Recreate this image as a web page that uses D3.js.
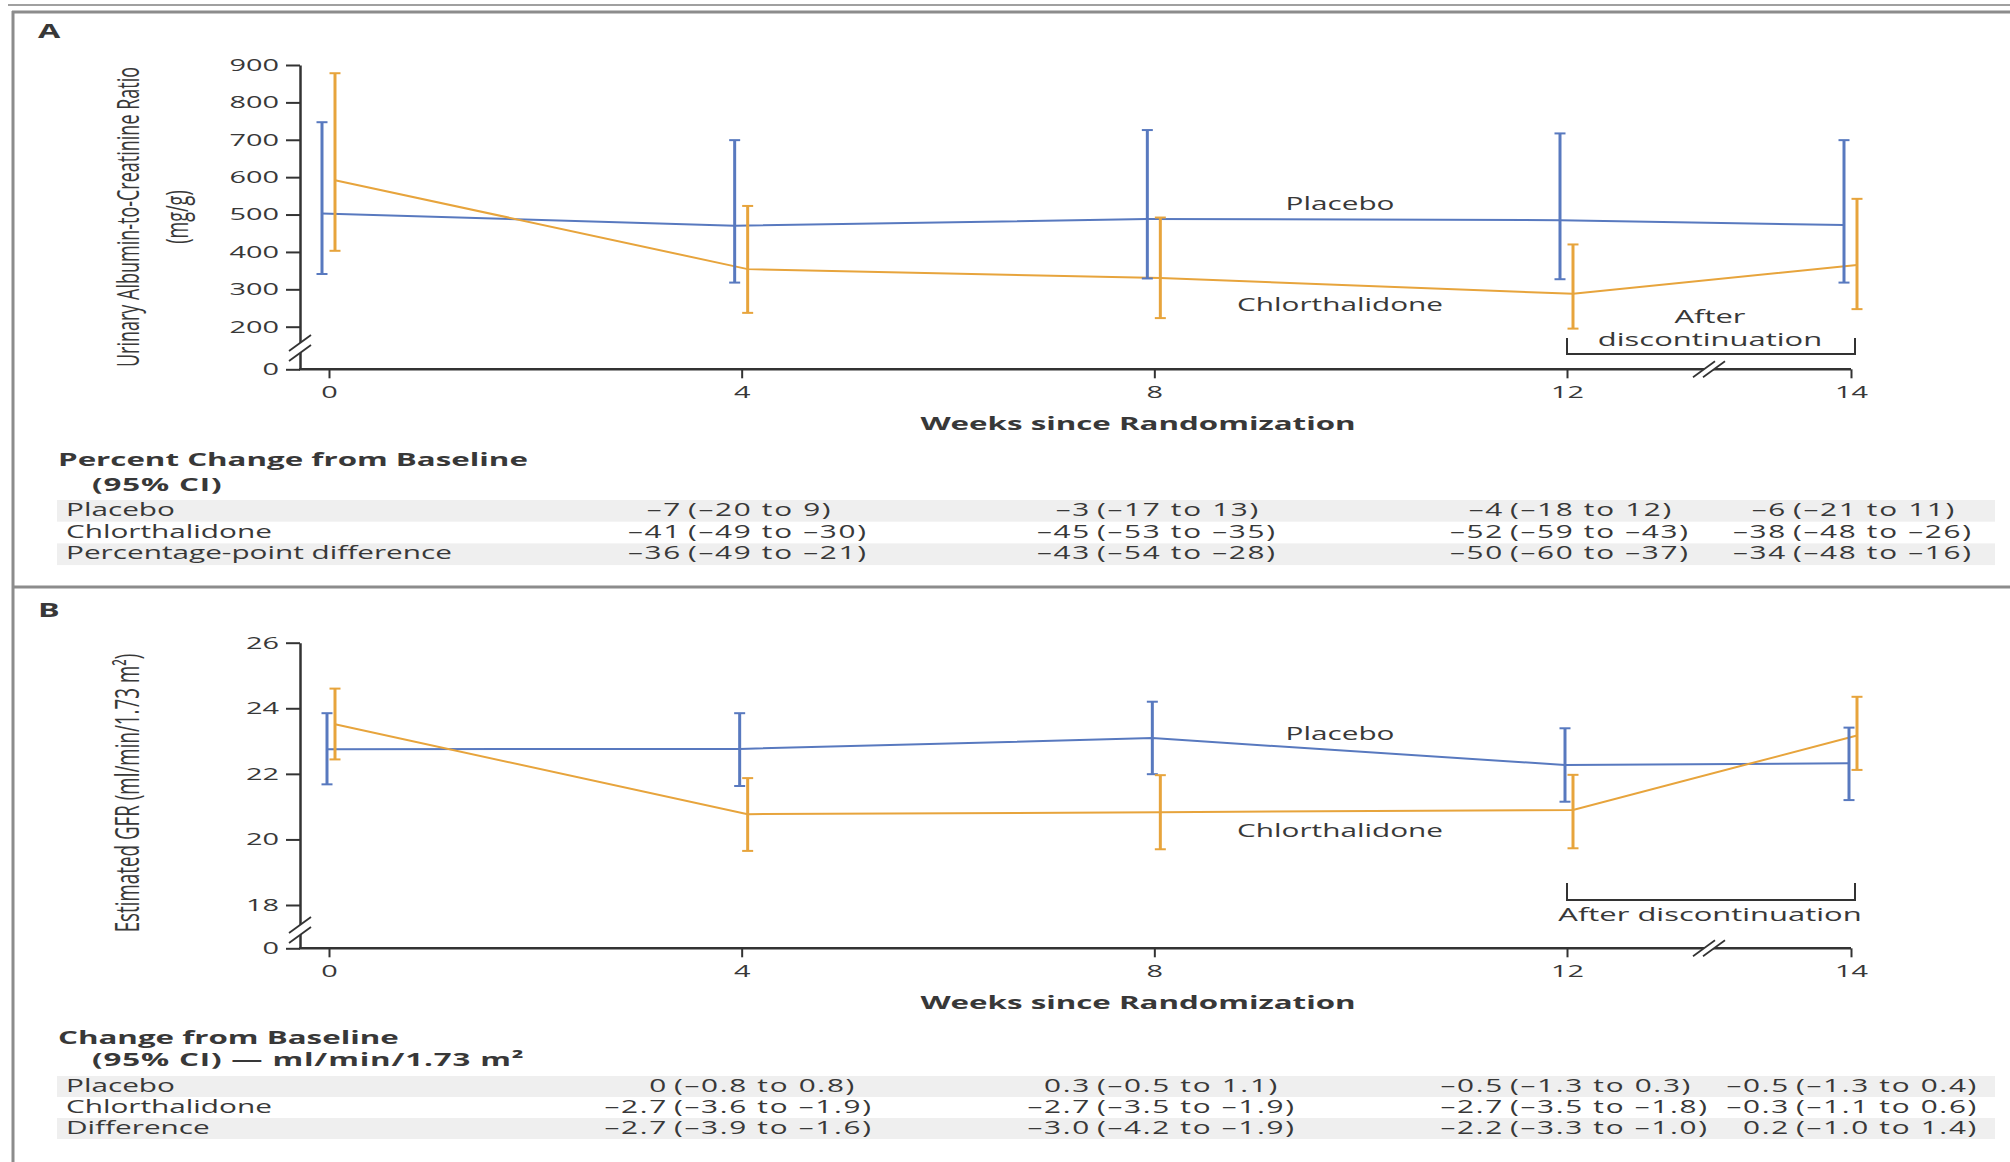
<!DOCTYPE html>
<html>
<head>
<meta charset="utf-8">
<script src="https://cdn.jsdelivr.net/npm/d3@7"></script>
<style>
  html, body { margin: 0; padding: 0; background: #fff; }
  svg { display: block; font-family: "Open Sans", "Noto Sans", sans-serif; }
</style>
</head>
<body>
<svg id="fig" width="2010" height="1162"></svg>
<script>
// ---- Data -------------------------------------------------------------
const weeks = [0, 4, 8, 12, 14];

// Urinary albumin-to-creatinine ratio (mg/g), mean with 95% CI
const uacrPlacebo   = [503, 470, 488, 485, 472];
const uacrPlaceboLo = [341, 318, 329, 327, 318];
const uacrPlaceboHi = [747, 699, 726, 717, 699];
const uacrChlor     = [592, 354, 330, 288, 365];
const uacrChlorLo   = [403, 237, 223, 191, 247];
const uacrChlorHi   = [878, 523, 492, 420, 542];
const uacrTicks     = [0, 200, 300, 400, 500, 600, 700, 800, 900];

// Estimated GFR (ml/min/1.73 m2), mean with 95% CI
const egfrPlacebo   = [22.75, 22.76, 23.09, 22.27, 22.32];
const egfrPlaceboLo = [21.68, 21.63, 21.99, 21.15, 21.20];
const egfrPlaceboHi = [23.85, 23.85, 24.20, 23.39, 23.41];
const egfrChlor     = [23.51, 20.77, 20.83, 20.90, 23.17];
const egfrChlorLo   = [22.44, 19.65, 19.70, 19.73, 22.12];
const egfrChlorHi   = [24.60, 21.87, 21.96, 21.97, 24.35];
const egfrTicks     = [0, 18, 20, 22, 24, 26];

// Summary tables (estimate, 95% CI) at weeks 4, 8, 12 and 14
const tableWeeks = [4, 8, 12, 14];
const uacrRowLabels = ["Placebo", "Chlorthalidone", "Percentage-point difference"];
const uacrPctPlacebo = [["–7", "(–20 to 9)"], ["–3", "(–17 to 13)"], ["–4", "(–18 to 12)"], ["–6", "(–21 to 11)"]];
const uacrPctChlor   = [["–41", "(–49 to –30)"], ["–45", "(–53 to –35)"], ["–52", "(–59 to –43)"], ["–38", "(–48 to –26)"]];
const uacrPctDiff    = [["–36", "(–49 to –21)"], ["–43", "(–54 to –28)"], ["–50", "(–60 to –37)"], ["–34", "(–48 to –16)"]];

const egfrRowLabels = ["Placebo", "Chlorthalidone", "Difference"];
const egfrChgPlacebo = [["0", "(–0.8 to 0.8)"], ["0.3", "(–0.5 to 1.1)"], ["–0.5", "(–1.3 to 0.3)"], ["–0.5", "(–1.3 to 0.4)"]];
const egfrChgChlor   = [["–2.7", "(–3.6 to –1.9)"], ["–2.7", "(–3.5 to –1.9)"], ["–2.7", "(–3.5 to –1.8)"], ["–0.3", "(–1.1 to 0.6)"]];
const egfrChgDiff    = [["–2.7", "(–3.9 to –1.6)"], ["–3.0", "(–4.2 to –1.9)"], ["–2.2", "(–3.3 to –1.0)"], ["0.2", "(–1.0 to 1.4)"]];

// ---- Style ------------------------------------------------------------
const S = 1.7;               // horizontal stretch applied to all lettering
const BLUE = "#5879bf";
const ORANGE = "#e7a43c";
const INK = "#383838";
const AXIS = "#333";
const FRAME = "#8c8c8c";

const svg = d3.select("#fig");

function txt(parent, x, y, str, o = {}) {
  const g = parent.append("g")
    .attr("transform", `translate(${x},${y}) scale(${S},1)` + (o.rotate ? ` rotate(${o.rotate})` : ""));
  const t = g.append("text")
    .attr("text-anchor", o.anchor || "start")
    .attr("font-size", o.size || 17.5)
    .attr("font-weight", o.weight || 400)
    .attr("fill", o.fill || INK)
    .text(str);
  if (o.spacing) t.attr("letter-spacing", o.spacing);
  return t;
}

// ---- Frame ------------------------------------------------------------
svg.append("line").attr("x1", 8).attr("x2", 2010).attr("y1", 5).attr("y2", 5)
  .attr("stroke", "#a0a0a0").attr("stroke-width", 2);
svg.append("line").attr("x1", 12).attr("x2", 2010).attr("y1", 12).attr("y2", 12)
  .attr("stroke", FRAME).attr("stroke-width", 3);
svg.append("line").attr("x1", 13).attr("x2", 13).attr("y1", 11).attr("y2", 1162)
  .attr("stroke", FRAME).attr("stroke-width", 3);
svg.append("line").attr("x1", 13).attr("x2", 2010).attr("y1", 587).attr("y2", 587)
  .attr("stroke", FRAME).attr("stroke-width", 3);

// Shared week scale: continuous 0-12, then a compressed stretch to week 14
const x = d3.scaleLinear().domain([0, 12, 14]).range([329, 1567, 1851]);
const AXIS_X = 300;

function breakMark(g, cx, cy, horizontalAxis) {
  const dx = horizontalAxis ? 5 : 0, dy = horizontalAxis ? 0 : 5;
  const hw = 11, hh = 8;
  g.append("path")
    .attr("d", `M${cx - hw - dx},${cy + hh + dy} L${cx + hw - dx},${cy - hh + dy} L${cx + hw + dx},${cy - hh - dy} L${cx - hw + dx},${cy + hh - dy} Z`)
    .attr("fill", "#fff");
  [-1, 1].forEach(s => {
    g.append("line")
      .attr("x1", cx - hw + s * dx).attr("y1", cy + hh + s * dy)
      .attr("x2", cx + hw + s * dx).attr("y2", cy - hh + s * dy)
      .attr("stroke", AXIS).attr("stroke-width", 1.8);
  });
}

function drawPanel(p) {
  const g = svg.append("g");
  const y = p.y;
  const axisY = y(0);

  // y axis
  const ya = g.append("g").attr("transform", `translate(${AXIS_X},0)`)
    .call(d3.axisLeft(y).tickValues(p.yTicks).tickSize(14).tickSizeOuter(0).tickPadding(7));
  ya.select(".domain").attr("stroke", AXIS).attr("stroke-width", 2.5);
  ya.selectAll(".tick line").attr("stroke", AXIS).attr("stroke-width", 2);
  ya.selectAll(".tick text")
    .attr("x", -21 / S).attr("transform", `scale(${S},1)`)
    .attr("font-size", 17).attr("fill", INK);
  ya.attr("font-family", null);

  // x axis
  const xa = g.append("g").attr("transform", `translate(0,${axisY})`)
    .call(d3.axisBottom(x).tickValues(weeks).tickSize(9).tickSizeOuter(0).tickPadding(8));
  xa.select(".domain").remove();
  xa.selectAll(".tick line").attr("stroke", AXIS).attr("stroke-width", 2);
  xa.selectAll(".tick text")
    .attr("transform", `scale(${S},1)`)
    .attr("font-size", 17).attr("fill", INK);
  xa.attr("font-family", null);
  g.append("line").attr("x1", AXIS_X - 1).attr("x2", x(14)).attr("y1", axisY).attr("y2", axisY)
    .attr("stroke", AXIS).attr("stroke-width", 2.5);

  breakMark(g, AXIS_X, p.yBreak, false);
  breakMark(g, x(13), axisY, true);

  // series lines
  p.series.forEach(s => {
    const line = d3.line().x((d, i) => x(weeks[i]) + s.dx).y(d => y(d));
    g.append("path").attr("d", line(s.mean)).attr("fill", "none")
      .attr("stroke", s.color).attr("stroke-width", 2);
  });
  // error bars
  p.series.forEach(s => {
    const eb = g.append("g").attr("stroke", s.color);
    weeks.forEach((w, i) => {
      const cx = x(w) + s.dx;
      eb.append("line").attr("x1", cx).attr("x2", cx).attr("y1", y(s.lo[i])).attr("y2", y(s.hi[i]))
        .attr("stroke-width", 3);
      [s.lo[i], s.hi[i]].forEach(v => {
        eb.append("line").attr("x1", cx - 5.5).attr("x2", cx + 5.5).attr("y1", y(v)).attr("y2", y(v))
          .attr("stroke-width", 2);
      });
    });
  });

  // series names
  txt(g, 1340, p.placeboLabelY, "Placebo", { anchor: "middle" });
  txt(g, 1340, p.chlorLabelY, "Chlorthalidone", { anchor: "middle" });

  // after-discontinuation bracket
  const b = p.bracket;
  g.append("path")
    .attr("d", `M${x(12)},${b.top} V${b.bottom} H${x(14) + 4} V${b.top}`)
    .attr("fill", "none").attr("stroke", AXIS).attr("stroke-width", 2);
  b.lines.forEach((t, i) => txt(g, (x(12) + x(14)) / 2 + 1, b.textY[i], t, { anchor: "middle", size: 18.2 }));

  // axis titles
  txt(g, 1138, axisY + 61, "Weeks since Randomization", { anchor: "middle", weight: 700, size: 18.4 });
  p.yTitle.forEach((t, i) => txt(g, p.yTitleX[i], p.yTitleY, t, { anchor: "middle", rotate: -90, size: p.yTitleSize }));

  // panel letter
  txt(g, 38, p.letterY, p.letter, { weight: 700, size: 19 });

  // summary table
  const tb = p.table;
  tb.rows.forEach((r, ri) => {
    const top = tb.top + ri * tb.rowH;
    if (ri % 2 === 0) {
      g.append("rect").attr("x", 57).attr("y", top).attr("width", 1938).attr("height", tb.rowH)
        .attr("fill", "#efefef");
    }
    const base = top + 16;
    txt(g, 66, base, r.label);
    r.values.forEach((v, ci) => {
      const px = tb.paren[ci];
      txt(g, px - 6, base, v[0], { anchor: "end", spacing: 1 });
      txt(g, px, base, v[1], { spacing: 1 });
    });
  });
  txt(g, 58, tb.headY[0], tb.head[0], { weight: 700, size: 18.4 });
  txt(g, 92, tb.headY[1], tb.head[1], { weight: 700, size: 18.4, spacing: 0.5 });
}

// ---- Panel A: urinary albumin-to-creatinine ratio ---------------------
drawPanel({
  letter: "A", letterY: 38,
  y: d3.scaleLinear().domain([0, 200, 900]).range([369.3, 326.7, 65]),
  yTicks: uacrTicks,
  yBreak: 348,
  series: [
    { mean: uacrPlacebo, lo: uacrPlaceboLo, hi: uacrPlaceboHi, color: BLUE, dx: -7 },
    { mean: uacrChlor, lo: uacrChlorLo, hi: uacrChlorHi, color: ORANGE, dx: 6 }
  ],
  placeboLabelY: 210, chlorLabelY: 311,
  bracket: { top: 338, bottom: 354, lines: ["After", "discontinuation"], textY: [323, 346] },
  yTitle: ["Urinary Albumin-to-Creatinine Ratio", "(mg/g)"], yTitleX: [139, 188], yTitleY: 217, yTitleSize: 18,
  table: {
    top: 500, rowH: 21.7, paren: [688, 1097, 1510, 1793],
    head: ["Percent Change from Baseline", "(95% CI)"], headY: [466, 491],
    rows: [
      { label: uacrRowLabels[0], values: uacrPctPlacebo },
      { label: uacrRowLabels[1], values: uacrPctChlor },
      { label: uacrRowLabels[2], values: uacrPctDiff }
    ]
  }
});

// ---- Panel B: estimated GFR -------------------------------------------
drawPanel({
  letter: "B", letterY: 617,
  y: d3.scaleLinear().domain([0, 18, 26]).range([948.3, 905, 642.7]),
  yTicks: egfrTicks,
  yBreak: 930,
  series: [
    { mean: egfrPlacebo, lo: egfrPlaceboLo, hi: egfrPlaceboHi, color: BLUE, dx: -2 },
    { mean: egfrChlor, lo: egfrChlorLo, hi: egfrChlorHi, color: ORANGE, dx: 6 }
  ],
  placeboLabelY: 740, chlorLabelY: 837,
  bracket: { top: 883, bottom: 900, lines: ["After discontinuation"], textY: [921] },
  yTitle: ["Estimated GFR (ml/min/1.73 m²)"], yTitleX: [139], yTitleY: 793, yTitleSize: 18.8,
  table: {
    top: 1076, rowH: 21, paren: [674, 1097, 1510, 1796],
    head: ["Change from Baseline", "(95% CI) — ml/min/1.73 m²"], headY: [1044, 1066],
    rows: [
      { label: egfrRowLabels[0], values: egfrChgPlacebo },
      { label: egfrRowLabels[1], values: egfrChgChlor },
      { label: egfrRowLabels[2], values: egfrChgDiff }
    ]
  }
});
</script>
</body>
</html>
